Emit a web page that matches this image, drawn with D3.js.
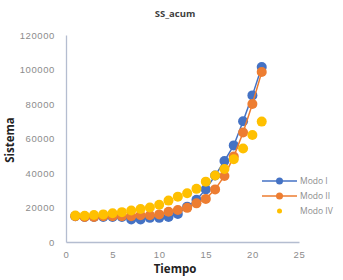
<!DOCTYPE html>
<html>
<head>
<meta charset="utf-8">
<script src="https://cdn.jsdelivr.net/npm/d3@7"></script>
<style>
  body { margin: 0; background: #fff; }
  svg { display: block; font-family: "Open Sans", "Liberation Sans", sans-serif; }
</style>
</head>
<body>
<svg id="chart" width="343" height="280"></svg>
<script>
// values
const tiempo = d3.range(1, 22)
const modoI  = [15000, 14500, 14500, 14500, 14500, 14500, 13000, 13000, 14000, 14000, 14500, 16200, 20500, 24500, 30500, 38500, 47000, 56000, 70000, 85000, 101500]
const modoII = [15000, 14500, 14500, 15000, 15000, 15000, 15000, 15500, 15500, 16000, 17500, 18500, 19800, 22400, 25000, 30500, 38300, 49500, 63500, 80000, 98500]
const modoIV = [15300, 15200, 15700, 16000, 16700, 17300, 18300, 19100, 20000, 21600, 24000, 26300, 28300, 30800, 35000, 38500, 42300, 48000, 54200, 62000, 69800]
const xTicks = [0, 5, 10, 15, 20, 25]
const yTicks = [0, 20000, 40000, 60000, 80000, 100000, 120000]

const series = [
  {name: 'Modo I',  values: modoI,  color: '#4472c4', line: true},
  {name: 'Modo II', values: modoII, color: '#ed7d31', line: true},
  {name: 'Modo IV', values: modoIV, color: '#ffc000', line: false}
]

const svg = d3.select('#chart')
const x = d3.scaleLinear().domain([0, 25]).range([66, 299])
const y = d3.scaleLinear().domain([0, 120000]).range([242, 35])
const axisColor = '#b4bdd0'
const textColor = '#8c8c8c'

// axes
const gx = svg.append('g').attr('transform', `translate(0,${y(0)})`)
  .call(d3.axisBottom(x).tickValues(xTicks).tickSize(0).tickPadding(9))
const gy = svg.append('g').attr('transform', `translate(${x(0)},0)`)
  .call(d3.axisLeft(y).tickValues(yTicks).tickSize(0).tickPadding(11).tickFormat(d3.format('d')))
for (const g of [gx, gy]) {
  g.select('.domain').attr('stroke', axisColor).attr('stroke-width', 1.3)
  g.selectAll('text').attr('fill', textColor)
    .style('font-size', '9.5px').style('letter-spacing', '0.6px')
}

// series
const line = d3.line().x((d, i) => x(tiempo[i])).y(d => y(d))
series.forEach(s => {
  if (s.line) {
    svg.append('path').datum(s.values)
      .attr('d', line).attr('fill', 'none')
      .attr('stroke', s.color).attr('stroke-width', 1.5)
  }
  svg.append('g').selectAll('circle').data(s.values).join('circle')
    .attr('cx', (d, i) => x(tiempo[i]))
    .attr('cy', d => y(d))
    .attr('r', 5)
    .attr('fill', s.color)
})

// titles
svg.append('text').attr('x', 175).attr('y', 17).attr('text-anchor', 'middle')
  .style('font-size', '9.5px').style('font-weight', 'bold').attr('fill', '#404040').text('SS_acum')
svg.append('text').attr('x', 175).attr('y', 273).attr('text-anchor', 'middle')
  .style('font-size', '11.5px').style('font-weight', 'bold').attr('fill', '#222').text('Tiempo')
svg.append('text').attr('transform', 'translate(14,140) rotate(-90)').attr('text-anchor', 'middle')
  .style('font-size', '11.5px').style('font-weight', 'bold').attr('fill', '#222').text('Sistema')

// legend
const leg = svg.append('g')
series.forEach((s, i) => {
  const ly = 181 + i * 15
  if (s.line) {
    leg.append('line').attr('x1', 262).attr('x2', 297).attr('y1', ly).attr('y2', ly)
      .attr('stroke', s.color).attr('stroke-width', 1.5)
    leg.append('circle').attr('cx', 279.5).attr('cy', ly).attr('r', 3.5).attr('fill', s.color)
  } else {
    leg.append('circle').attr('cx', 279.5).attr('cy', ly).attr('r', 2.5).attr('fill', s.color)
  }
  leg.append('text').attr('x', 300).attr('y', ly + 3).style('font-size', '8.5px')
    .attr('fill', textColor).text(s.name)
})
</script>
</body>
</html>
